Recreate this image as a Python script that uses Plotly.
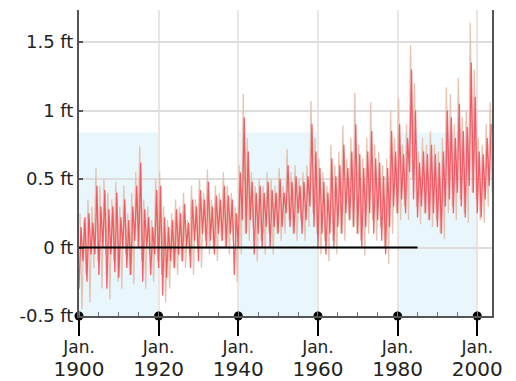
import plotly.graph_objects as go

years = list(range(1900, 2004))
# yearly extreme high / low of monthly sea level (ft)
high = [0.25, 0.20, 0.35, 0.30, 0.58, 0.45, 0.50, 0.40, 0.35, 0.48,
        0.30, 0.45, 0.25, 0.40, 0.55, 0.74, 0.35, 0.30, 0.20, 0.50,
        0.55, 0.30, 0.20, 0.25, 0.35, 0.30, 0.40, 0.20, 0.45, 0.35,
        0.50, 0.40, 0.57, 0.35, 0.45, 0.40, 0.55, 0.45, 0.40, 0.30,
        0.60, 1.12, 0.80, 0.55, 0.45, 0.50, 0.45, 0.55, 0.50, 0.45,
        0.58, 0.45, 0.72, 0.55, 0.60, 0.50, 0.55, 0.60, 1.07, 0.80,
        0.65, 0.55, 0.45, 0.75, 0.60, 0.70, 0.89, 0.65, 0.80, 1.13,
        0.75, 0.65, 0.80, 1.06, 0.75, 0.70, 0.60, 0.65, 1.00, 0.80,
        1.09, 0.75, 0.90, 1.48, 1.20, 0.70, 0.80, 0.75, 0.85, 0.75,
        0.70, 0.80, 1.17, 1.12, 0.90, 1.24, 0.95, 1.00, 1.64, 1.30,
        0.80, 0.75, 0.90, 1.06]
low = [-0.45, -0.20, -0.40, -0.15, -0.10, -0.30, -0.05, -0.38, -0.10, -0.25,
       -0.30, -0.05, -0.20, -0.27, 0.00, -0.10, -0.30, -0.05, -0.25, -0.10,
       -0.20, -0.40, -0.30, -0.15, -0.20, -0.10, -0.15, -0.05, -0.20, 0.00,
       -0.15, 0.05, -0.05, 0.00, -0.10, 0.05, 0.00, -0.05, 0.05, -0.25,
       -0.05, 0.10, 0.05, 0.15, -0.10, 0.05, -0.05, 0.10, -0.05, 0.10,
       0.05, 0.10, 0.20, 0.10, 0.05, 0.20, 0.05, 0.15, 0.25, 0.10,
       -0.05, 0.05, -0.10, 0.05, -0.05, 0.10, 0.05, 0.20, 0.15, 0.10,
       0.05, -0.06, 0.10, 0.20, 0.05, 0.15, 0.00, -0.12, 0.10, 0.25,
       0.20, 0.30, 0.20, 0.50, 0.30, 0.17, 0.25, 0.20, 0.15, 0.20,
       0.10, 0.06, 0.25, 0.30, 0.20, 0.35, 0.25, 0.18, 0.40, 0.35,
       0.20, 0.18, 0.30, 0.40]
mid_high = [0.15, 0.22, 0.25, 0.18, 0.45, 0.30, 0.42, 0.28, 0.30, 0.40,
            0.22, 0.35, 0.20, 0.30, 0.45, 0.62, 0.28, 0.22, 0.15, 0.42,
            0.45, 0.22, 0.15, 0.20, 0.28, 0.25, 0.32, 0.18, 0.35, 0.30,
            0.42, 0.35, 0.48, 0.30, 0.38, 0.35, 0.45, 0.38, 0.35, 0.25,
            0.55, 0.95, 0.70, 0.48, 0.40, 0.45, 0.40, 0.48, 0.42, 0.40,
            0.50, 0.40, 0.60, 0.48, 0.52, 0.45, 0.48, 0.52, 0.90, 0.70,
            0.58, 0.48, 0.40, 0.65, 0.52, 0.60, 0.75, 0.58, 0.70, 0.90,
            0.68, 0.58, 0.70, 0.85, 0.65, 0.62, 0.52, 0.58, 0.85, 0.70,
            0.90, 0.68, 0.80, 1.30, 1.00, 0.62, 0.70, 0.68, 0.75, 0.68,
            0.62, 0.70, 1.00, 0.95, 0.80, 1.05, 0.85, 0.88, 1.35, 1.10,
            0.70, 0.68, 0.80, 0.90]
mid_low = [-0.30, -0.10, -0.25, -0.05, -0.05, -0.20, 0.00, -0.30, -0.05, -0.18,
           -0.22, 0.00, -0.15, -0.20, 0.05, 0.00, -0.25, 0.00, -0.20, -0.05,
           -0.15, -0.35, -0.22, -0.10, -0.15, -0.05, -0.10, 0.00, -0.15, 0.05,
           -0.10, 0.10, 0.00, 0.05, -0.05, 0.10, 0.05, 0.00, 0.10, -0.20,
           0.00, 0.20, 0.10, 0.20, -0.05, 0.10, 0.00, 0.15, 0.00, 0.15,
           0.10, 0.15, 0.25, 0.15, 0.10, 0.25, 0.10, 0.20, 0.30, 0.15,
           0.00, 0.10, -0.05, 0.10, 0.00, 0.15, 0.10, 0.25, 0.20, 0.15,
           0.10, 0.00, 0.15, 0.25, 0.10, 0.20, 0.05, -0.05, 0.15, 0.30,
           0.25, 0.35, 0.25, 0.55, 0.35, 0.22, 0.30, 0.25, 0.20, 0.25,
           0.15, 0.10, 0.30, 0.35, 0.25, 0.40, 0.30, 0.22, 0.45, 0.40,
           0.25, 0.22, 0.35, 0.45]

major_years = [1900, 1920, 1940, 1960, 1980, 2000]
major_labels = ["<span style='font-size:17px'>Jan.</span><br>"
                "<span style='font-size:20px'>" + str(y) + "</span>" for y in major_years]
y_ticks = [-0.5, 0, 0.5, 1, 1.5]
y_labels = ["-0.5 ft", "0 ft", "0.5 ft", "1 ft", "1.5 ft"]
bands = [(1900, 1920), (1940, 1960), (1980, 2000)]
band_top = 0.84
zero_line_end = 1985

xs, ys = [], []
for yr, h, l in zip(years, high, low):
    xs += [yr + 0.25, yr + 0.75]
    ys += [h, l]
xr, yrv = [], []
for yr, h, l in zip(years, mid_high, mid_low):
    xr += [yr + 0.0, yr + 0.5]
    yrv += [l, h]

fig = go.Figure()
fig.add_trace(go.Scatter(x=xs, y=ys, mode="lines",
                         line=dict(color="rgba(226,190,168,0.9)", width=1.3),
                         hoverinfo="skip", showlegend=False))
fig.add_trace(go.Scatter(x=xr, y=yrv, mode="lines",
                         line=dict(color="rgba(245,60,75,0.8)", width=1.3),
                         hoverinfo="skip", showlegend=False))
fig.add_trace(go.Scatter(x=major_years, y=[-0.5] * len(major_years), mode="markers",
                         marker=dict(color="black", size=9), cliponaxis=False,
                         hoverinfo="skip", showlegend=False))

shapes = []
for a, b in bands:
    shapes.append(dict(type="rect", xref="x", yref="y", x0=a, x1=b, y0=-0.5, y1=band_top,
                       fillcolor="#e9f6fb", line=dict(width=0), layer="below"))
shapes.append(dict(type="line", xref="x", yref="y", x0=1900, x1=zero_line_end, y0=0, y1=0,
                   line=dict(color="black", width=2), layer="above"))

font = "DejaVu Sans"
fig.update_layout(
    width=516, height=381,
    margin=dict(l=79, r=24, t=10, b=65, autoexpand=False),
    paper_bgcolor="white", plot_bgcolor="white",
    shapes=shapes,
    xaxis=dict(range=[1900, 2003.7], tickvals=major_years, ticktext=major_labels,
               ticks="outside", ticklen=18, tickwidth=2, tickcolor="black",
               showgrid=True, gridcolor="#ebe4df", gridwidth=2, automargin=False,
               showline=True, linecolor="#555", linewidth=2, zeroline=False,
               tickfont=dict(family=font, size=17, color="#222"),
               ticklabelstandoff=-3,
               minor=dict(dtick=5, tick0=1900, ticks="inside", ticklen=4,
                          tickwidth=1, tickcolor="#777", showgrid=False)),
    yaxis=dict(range=[-0.5, 1.734], tickvals=y_ticks, ticktext=y_labels,
               ticks="inside", ticklen=4, tickwidth=2, tickcolor="#555",
               showgrid=True, gridcolor="#dddddd", gridwidth=2, automargin=False,
               showline=True, linecolor="#555", linewidth=2, mirror=True,
               zeroline=False,
               tickfont=dict(family=font, size=18, color="#222")),
)

fig.write_html("out.html", config={"displayModeBar": False},
               post_script="document.body.style.margin='0';document.body.style.overflow='hidden';")
